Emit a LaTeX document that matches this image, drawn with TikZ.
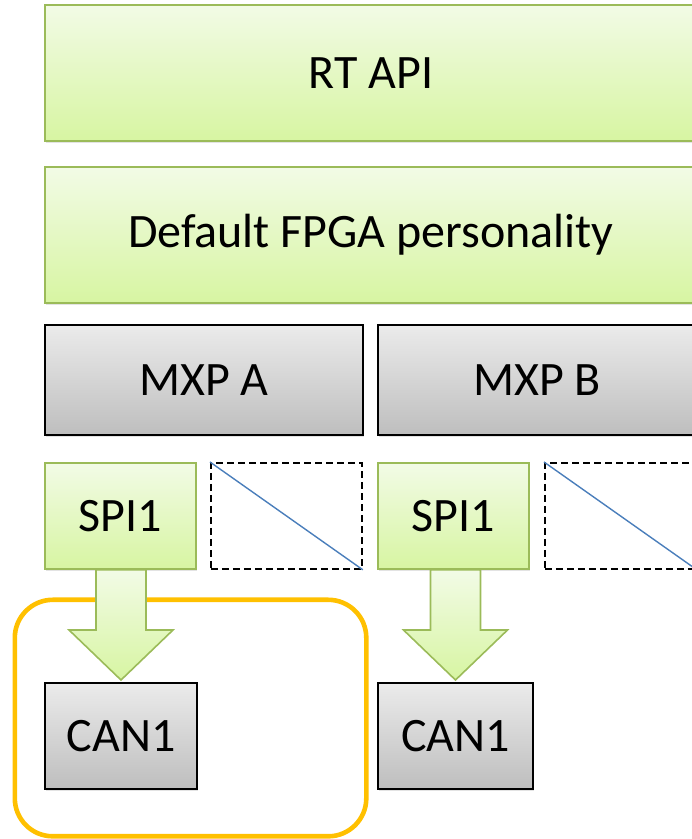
\documentclass[tikz,border=0pt]{standalone}
\usepackage{fontspec}
\setmainfont{Carlito}
\usetikzlibrary{shadows,calc}
\definecolor{gborder}{HTML}{9BBB59}
\definecolor{gtop}{HTML}{F2FBE6}
\definecolor{gbot}{HTML}{D7F5A2}
\definecolor{ytop}{HTML}{EBEBEB}
\definecolor{ybot}{HTML}{BEBEBE}
\definecolor{orng}{HTML}{FFC000}
\definecolor{bline}{HTML}{4A7EBB}
\tikzset{
  base/.style={rectangle, inner sep=0pt, anchor=north west, font=\fontsize{48}{54}\selectfont,
    drop shadow={shadow xshift=1pt, shadow yshift=-2.5pt, opacity=0.22}},
  greenbox/.style={base, draw=gborder, line width=1.8pt, top color=gtop, bottom color=gbot},
  graybox/.style={base, draw=black, line width=2pt, top color=ytop, bottom color=ybot},
  emptybox/.style={rectangle, anchor=north west, draw=black, dash pattern=on 7pt off 4pt, line width=1.8pt},
  diag/.style={draw=bline, line width=1.4pt},
  blockarrow/.style={draw=gborder, line width=1.6pt, top color=gtop, bottom color=gbot, line join=miter},
  groupbox/.style={rectangle, draw=orng, line width=4.6pt, rounded corners=38pt, anchor=north west},
}
\begin{document}
\begin{tikzpicture}[x=1pt,y=1pt]
\useasboundingbox (0,0) rectangle (692,839);
\clip (0,0) rectangle (692,839);
\node[greenbox, minimum width=652pt, minimum height=136pt] (rt) at (44,835) {RT API};
\node[greenbox, minimum width=652pt, minimum height=136pt] (fpga) at (44,673) {Default FPGA personality};
\node[graybox, minimum width=318pt, minimum height=110pt] (mxpA) at (44,515) {MXP A};
\node[graybox, minimum width=318pt, minimum height=110pt] (mxpB) at (377,515) {MXP B};
\node[greenbox, minimum width=151pt, minimum height=106pt] (spiA) at (44,377) {SPI1};
\node[emptybox, minimum width=151pt, minimum height=106pt] (emptyA) at (210,377) {};
\node[greenbox, minimum width=151pt, minimum height=106pt] (spiB) at (377,377) {SPI1};
\node[emptybox, minimum width=151pt, minimum height=106pt] (emptyB) at (544,377) {};
\draw[diag] (emptyA.north west) -- (emptyA.south east);
\draw[diag] (emptyB.north west) -- (emptyB.south east);
\node[graybox, minimum width=152pt, minimum height=106pt] (canA) at (44,157) {CAN1};
\node[graybox, minimum width=155pt, minimum height=106pt] (canB) at (377,157) {CAN1};
\node[groupbox, minimum width=351.5pt, minimum height=236.5pt] (grp) at (12.5,241.5) {};
\draw[blockarrow] let \p1=(spiA.south), \p2=(canA.north) in
  (\x2-25pt,\y1) -- (\x2-25pt,\y2+52pt) -- (\x2-52pt,\y2+52pt) -- (\x2,\y2+2pt)
  -- (\x2+52pt,\y2+52pt) -- (\x2+25pt,\y2+52pt) -- (\x2+25pt,\y1) -- cycle;
\draw[blockarrow] let \p1=(spiB.south), \p2=(canB.north) in
  (\x2-25pt,\y1) -- (\x2-25pt,\y2+52pt) -- (\x2-52pt,\y2+52pt) -- (\x2,\y2+2pt)
  -- (\x2+52pt,\y2+52pt) -- (\x2+25pt,\y2+52pt) -- (\x2+25pt,\y1) -- cycle;
\end{tikzpicture}
\end{document}
